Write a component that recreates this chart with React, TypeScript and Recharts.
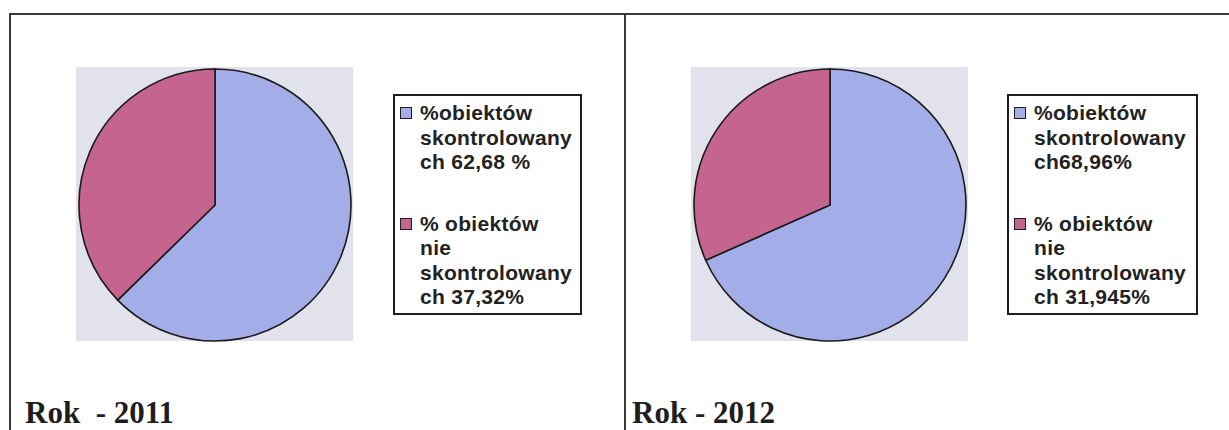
import { PieChart, Pie, Cell, Legend } from "recharts"

// ---- data ----
const names2011 = [
  "%obiektów\nskontrolowany\nch 62,68 %",
  "% obiektów\nnie\nskontrolowany\nch 37,32%",
]
const values2011 = [62.68, 37.32]

const names2012 = [
  "%obiektów\nskontrolowany\nch68,96%",
  "% obiektów\nnie\nskontrolowany\nch 31,945%",
]
const values2012 = [68.96, 31.945]

const sliceColors = ["#A3AEE8", "#C5658F"]

// ---- legend box ----
type LegendEntry = { value?: string; color?: string }

function BoxLegend({ payload, width, order }: { payload?: LegendEntry[]; width: number; order: string[] }) {
  if (!payload) return null
  // keep the series order (recharts sorts legend items by name)
  const items = [...payload].sort((a, b) => order.indexOf(a.value || "") - order.indexOf(b.value || ""))
  return (
    <div
      style={{
        width,
        height: 221,
        boxSizing: "border-box",
        border: "2px solid #1e1e1e",
        background: "#fff",
        padding: "5px 0 0 0",
        fontFamily: "'Liberation Sans', Arial, sans-serif",
        fontWeight: 700,
        fontSize: 21,
        lineHeight: "24.5px",
        color: "#222",
        letterSpacing: 0.3,
      }}
    >
      {items.map((p, i) => (
        <div key={i} style={{ position: "relative", paddingLeft: 25, marginTop: i === 0 ? 0 : 37 }}>
          <span
            style={{
              position: "absolute",
              left: 5,
              top: 6,
              width: 10,
              height: 10,
              border: "1.5px solid #1e1e1e",
              background: p.color,
            }}
          />
          <div style={{ whiteSpace: "pre-line" }}>{p.value}</div>
        </div>
      ))}
    </div>
  )
}

// ---- one panel ----
type PanelProps = {
  x: number
  names: string[]
  values: number[]
  legendLeft: number
  legendWidth: number
}

function PiePanel({ x, names, values, legendLeft, legendWidth }: PanelProps) {
  const rows = names.map((n, i) => ({ name: n, value: values[i] }))
  return (
    <div style={{ position: "absolute", left: x, top: 67, width: 520, height: 275 }}>
      {/* grey plot area */}
      <div style={{ position: "absolute", left: 0, top: 0, width: 277, height: 274, background: "#E2E2EC" }} />
      <div style={{ position: "absolute", left: 0, top: 0 }}>
        <PieChart width={520} height={275} margin={{ top: 0, right: 0, bottom: 0, left: 0 }}>
          <Pie
            data={rows}
            dataKey="value"
            nameKey="name"
            cx={139}
            cy={138}
            outerRadius={136}
            startAngle={90}
            endAngle={-270}
            stroke="#1a1a1a"
            strokeWidth={1.6}
            isAnimationActive={false}
          >
            {rows.map((_, i) => (
              <Cell key={i} fill={sliceColors[i]} />
            ))}
          </Pie>
          <Legend
            layout="vertical"
            align="right"
            verticalAlign="top"
            wrapperStyle={{ left: legendLeft, top: 27, width: legendWidth, right: "auto" }}
            content={(props: any) => <BoxLegend payload={props.payload} width={legendWidth} order={names} />}
          />
        </PieChart>
      </div>
    </div>
  )
}

const titleStyle: React.CSSProperties = {
  position: "absolute",
  top: 397,
  fontFamily: "'Liberation Serif', 'Times New Roman', serif",
  fontWeight: 700,
  fontSize: 31,
  lineHeight: "31px",
  color: "#1e1e1e",
  whiteSpace: "pre",
}

export default function App() {
  return (
    <div
      style={{
        position: "absolute",
        left: 0,
        top: 0,
        width: 1229,
        height: 430,
        background: "#fff",
        overflow: "hidden",
      }}
    >
      {/* frame lines */}
      <div style={{ position: "absolute", left: 9, top: 13, width: 1220, height: 2, background: "#3a3a3a" }} />
      <div style={{ position: "absolute", left: 9, top: 13, width: 2, height: 417, background: "#3a3a3a" }} />
      <div style={{ position: "absolute", left: 624, top: 13, width: 2, height: 417, background: "#3a3a3a" }} />

      <PiePanel x={76} names={names2011} values={values2011} legendLeft={317} legendWidth={189} />
      <PiePanel x={691} names={names2012} values={values2012} legendLeft={316} legendWidth={191} />

      <div style={{ ...titleStyle, left: 25 }}>Rok  - 2011</div>
      <div style={{ ...titleStyle, left: 632 }}>Rok - 2012</div>
    </div>
  )
}
